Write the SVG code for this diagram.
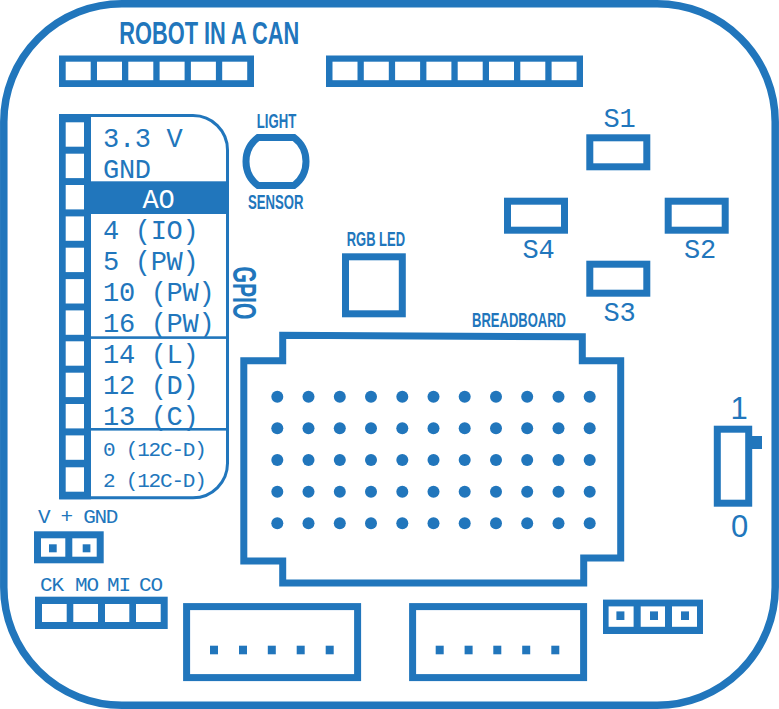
<svg xmlns="http://www.w3.org/2000/svg" width="779" height="709" viewBox="0 0 779 709">
<style>
.o{fill:none;stroke:#2176bc;stroke-width:7}
.b{fill:#2176bc}
.w{fill:#fff}
.m{font-family:"Liberation Mono",monospace;font-size:27px;letter-spacing:-.3px;fill:#2176bc}
.s{font-family:"Liberation Mono",monospace;font-size:21px;letter-spacing:-1.2px;fill:#2176bc}
.h{font-family:"Liberation Sans Narrow","Liberation Sans",sans-serif;font-weight:bold;fill:#2176bc;font-size:19.5px}
.n{font-family:"Liberation Sans",sans-serif;font-size:31px;fill:#2176bc;text-anchor:middle}
</style>
<rect width="779" height="709" fill="#fff"/>
<rect id="board" x="3.8" y="3.8" width="771.4" height="701.4" rx="118" ry="118" class="o" style="stroke-width:7.5"/>
<text id="title" class="h" x="119.3" y="44.3" style="font-size:32px" textLength="180" lengthAdjust="spacingAndGlyphs">ROBOT IN A CAN</text>
<g id="header-top-left">
<rect class="b" x="59" y="55.5" width="195" height="31.5"/>
<rect class="w" x="65.7" y="61.7" width="25" height="18.5"/>
<rect class="w" x="97" y="61.7" width="25" height="18.5"/>
<rect class="w" x="128.3" y="61.7" width="25" height="18.5"/>
<rect class="w" x="159.6" y="61.7" width="25" height="18.5"/>
<rect class="w" x="190.9" y="61.7" width="25" height="18.5"/>
<rect class="w" x="222.2" y="61.7" width="25" height="18.5"/>
</g>
<g id="header-top-right">
<rect class="b" x="326" y="55.5" width="257" height="31.5"/>
<rect class="w" x="332.5" y="61.7" width="25" height="18.5"/>
<rect class="w" x="363.8" y="61.7" width="25" height="18.5"/>
<rect class="w" x="395.1" y="61.7" width="25" height="18.5"/>
<rect class="w" x="426.4" y="61.7" width="25" height="18.5"/>
<rect class="w" x="457.7" y="61.7" width="25" height="18.5"/>
<rect class="w" x="489" y="61.7" width="25" height="18.5"/>
<rect class="w" x="520.3" y="61.7" width="25" height="18.5"/>
<rect class="w" x="551.6" y="61.7" width="25" height="18.5"/>
</g>
<g id="gpio">
<path d="M60.5 115.5H193A34.5 34.5 0 0 1 227.5 150V463A34.5 34.5 0 0 1 193 497.8H60.5Z" fill="#fff" stroke="#2176bc" stroke-width="3"/>
<rect class="b" x="59.3" y="114" width="31.7" height="385.3"/>
<rect class="w" x="65.7" y="122.3" width="18.3" height="24.4"/>
<rect class="w" x="65.7" y="153.7" width="18.3" height="24.4"/>
<rect class="w" x="65.7" y="185" width="18.3" height="24.4"/>
<rect class="w" x="65.7" y="216.4" width="18.3" height="24.4"/>
<rect class="w" x="65.7" y="247.7" width="18.3" height="24.4"/>
<rect class="w" x="65.7" y="279.1" width="18.3" height="24.4"/>
<rect class="w" x="65.7" y="310.4" width="18.3" height="24.4"/>
<rect class="w" x="65.7" y="341.3" width="18.3" height="24.4"/>
<rect class="w" x="65.7" y="372.7" width="18.3" height="24.4"/>
<rect class="w" x="65.7" y="404" width="18.3" height="24.4"/>
<rect class="w" x="65.7" y="435.4" width="18.3" height="24.4"/>
<rect class="w" x="65.7" y="467.3" width="18.3" height="24.4"/>
<rect class="b" x="91" y="181.3" width="138" height="32.7"/>
<rect class="b" x="91" y="336.3" width="138" height="2.6"/>
<rect class="b" x="91" y="428" width="138" height="2.6"/>
<text class="m" x="103" y="146.7">3.3 V</text>
<text class="m" x="103" y="177.7">GND</text>
<text class="m" x="142.5" y="208" style="fill:#fff">AO</text>
<text class="m" x="103" y="239">4 (IO)</text>
<text class="m" x="103" y="270">5 (PW)</text>
<text class="m" x="103" y="300.5">10 (PW)</text>
<text class="m" x="103" y="331.5">16 (PW)</text>
<text class="m" x="103" y="363">14 (L)</text>
<text class="m" x="103" y="394">12 (D)</text>
<text class="m" x="103" y="425">13 (C)</text>
<text class="s" x="103" y="456">0 (12C-D)</text>
<text class="s" x="103" y="487">2 (12C-D)</text>
<text class="h" transform="translate(233.3 266.5) rotate(90)" style="font-size:34px" textLength="53" lengthAdjust="spacingAndGlyphs">GPIO</text>
</g>
<g id="light-sensor">
<path class="o" d="M258 137.5H294A30 30 0 0 1 294 185.5H258A30 30 0 0 1 258 137.5Z"/>
<text class="h" x="256.7" y="128" textLength="39.5" lengthAdjust="spacingAndGlyphs">LIGHT</text>
<text class="h" x="248" y="209" textLength="55.5" lengthAdjust="spacingAndGlyphs">SENSOR</text>
</g>
<g id="rgb-led">
<rect class="o" x="345.5" y="256.8" width="56.8" height="57"/>
<text class="h" x="346.7" y="245.7" textLength="58.3" lengthAdjust="spacingAndGlyphs">RGB LED</text>
</g>
<g id="s1"><rect class="o" x="589.8" y="137.8" width="57" height="29"/><text class="m" x="603.5" y="127.3">S1</text></g>
<g id="s2"><rect class="o" x="668.2" y="201.2" width="57" height="29"/><text class="m" x="684" y="257.7">S2</text></g>
<g id="s3"><rect class="o" x="589.8" y="264.2" width="57" height="29"/><text class="m" x="603.5" y="320.7">S3</text></g>
<g id="s4"><rect class="o" x="507.5" y="201.2" width="57" height="29"/><text class="m" x="522.5" y="257.7">S4</text></g>
<g id="breadboard">
<path class="o" d="M243.8 360.8H282.7V335.3L582.3 336.8V360.7H620.7V558H583.7V583H282.7V561H243.8Z"/>
<text class="h" x="472" y="326.7" textLength="94" lengthAdjust="spacingAndGlyphs">BREADBOARD</text>
<g class="b">
<circle cx="277.3" cy="396.7" r="6"/><circle cx="308.5" cy="396.7" r="6"/><circle cx="339.8" cy="396.7" r="6"/><circle cx="371" cy="396.7" r="6"/><circle cx="402.3" cy="396.7" r="6"/><circle cx="433.5" cy="396.7" r="6"/><circle cx="464.7" cy="396.7" r="6"/><circle cx="496" cy="396.7" r="6"/><circle cx="527.2" cy="396.7" r="6"/><circle cx="558.5" cy="396.7" r="6"/><circle cx="589.7" cy="396.7" r="6"/>
<circle cx="277.3" cy="428.3" r="6"/><circle cx="308.5" cy="428.3" r="6"/><circle cx="339.8" cy="428.3" r="6"/><circle cx="371" cy="428.3" r="6"/><circle cx="402.3" cy="428.3" r="6"/><circle cx="433.5" cy="428.3" r="6"/><circle cx="464.7" cy="428.3" r="6"/><circle cx="496" cy="428.3" r="6"/><circle cx="527.2" cy="428.3" r="6"/><circle cx="558.5" cy="428.3" r="6"/><circle cx="589.7" cy="428.3" r="6"/>
<circle cx="277.3" cy="460" r="6"/><circle cx="308.5" cy="460" r="6"/><circle cx="339.8" cy="460" r="6"/><circle cx="371" cy="460" r="6"/><circle cx="402.3" cy="460" r="6"/><circle cx="433.5" cy="460" r="6"/><circle cx="464.7" cy="460" r="6"/><circle cx="496" cy="460" r="6"/><circle cx="527.2" cy="460" r="6"/><circle cx="558.5" cy="460" r="6"/><circle cx="589.7" cy="460" r="6"/>
<circle cx="277.3" cy="491.7" r="6"/><circle cx="308.5" cy="491.7" r="6"/><circle cx="339.8" cy="491.7" r="6"/><circle cx="371" cy="491.7" r="6"/><circle cx="402.3" cy="491.7" r="6"/><circle cx="433.5" cy="491.7" r="6"/><circle cx="464.7" cy="491.7" r="6"/><circle cx="496" cy="491.7" r="6"/><circle cx="527.2" cy="491.7" r="6"/><circle cx="558.5" cy="491.7" r="6"/><circle cx="589.7" cy="491.7" r="6"/>
<circle cx="277.3" cy="523.3" r="6"/><circle cx="308.5" cy="523.3" r="6"/><circle cx="339.8" cy="523.3" r="6"/><circle cx="371" cy="523.3" r="6"/><circle cx="402.3" cy="523.3" r="6"/><circle cx="433.5" cy="523.3" r="6"/><circle cx="464.7" cy="523.3" r="6"/><circle cx="496" cy="523.3" r="6"/><circle cx="527.2" cy="523.3" r="6"/><circle cx="558.5" cy="523.3" r="6"/><circle cx="589.7" cy="523.3" r="6"/>
</g>
</g>
<g id="switch">
<rect class="o" x="717.3" y="429.2" width="31.4" height="74"/>
<rect class="b" x="752" y="436" width="10" height="13"/>
<text class="n" x="739" y="419.3">1</text>
<text class="n" x="739.5" y="537">0</text>
</g>
<g id="power-header">
<text class="s" x="38" y="522.7" style="letter-spacing:-1.3px">V + GND</text>
<rect class="b" x="34" y="531.3" width="69.7" height="32"/>
<rect class="w" x="41" y="538.3" width="24.3" height="18.4"/>
<rect class="w" x="72.3" y="538.3" width="24.4" height="18.4"/>
<rect class="b" x="49" y="544.3" width="7.7" height="8"/>
<rect class="b" x="82.7" y="544.3" width="7.7" height="8"/>
</g>
<g id="spi-header">
<text class="s" x="40" y="590.7">CK</text>
<text class="s" x="75" y="590.7">MO</text>
<text class="s" x="107" y="590.7">MI</text>
<text class="s" x="139" y="590.7">CO</text>
<rect class="b" x="35" y="596.7" width="132.7" height="32.3"/>
<rect class="w" x="42" y="604" width="24.7" height="18"/>
<rect class="w" x="73.3" y="604" width="24.7" height="18"/>
<rect class="w" x="105" y="604" width="24.3" height="18"/>
<rect class="w" x="136" y="604" width="24.7" height="18"/>
</g>
<g id="connector-1">
<rect class="o" x="186.6" y="606.6" width="171" height="71"/>
<rect class="b" x="210" y="645.7" width="8" height="8.6"/><rect class="b" x="239" y="645.7" width="8" height="8.6"/><rect class="b" x="267.8" y="645.7" width="8" height="8.6"/><rect class="b" x="296.7" y="645.7" width="8" height="8.6"/><rect class="b" x="325.7" y="645.7" width="8" height="8.6"/>
</g>
<g id="connector-2">
<rect class="o" x="412.6" y="606.6" width="171" height="71"/>
<rect class="b" x="435.7" y="645.7" width="8" height="8.6"/><rect class="b" x="464.6" y="645.7" width="8" height="8.6"/><rect class="b" x="493.3" y="645.7" width="8" height="8.6"/><rect class="b" x="522.2" y="645.7" width="8" height="8.6"/><rect class="b" x="551.3" y="645.7" width="8" height="8.6"/>
</g>
<g id="small-header">
<rect class="b" x="603" y="599.6" width="100" height="34.4"/>
<rect class="w" x="608.6" y="606.4" width="25" height="20.4"/>
<rect class="w" x="640.7" y="606.4" width="24.3" height="20.4"/>
<rect class="w" x="672" y="606.4" width="25" height="20.4"/>
<rect class="b" x="616.4" y="611.4" width="8" height="8.6"/>
<rect class="b" x="650" y="611.4" width="8" height="8.6"/>
<rect class="b" x="681" y="611.4" width="8" height="8.6"/>
</g>
</svg>
